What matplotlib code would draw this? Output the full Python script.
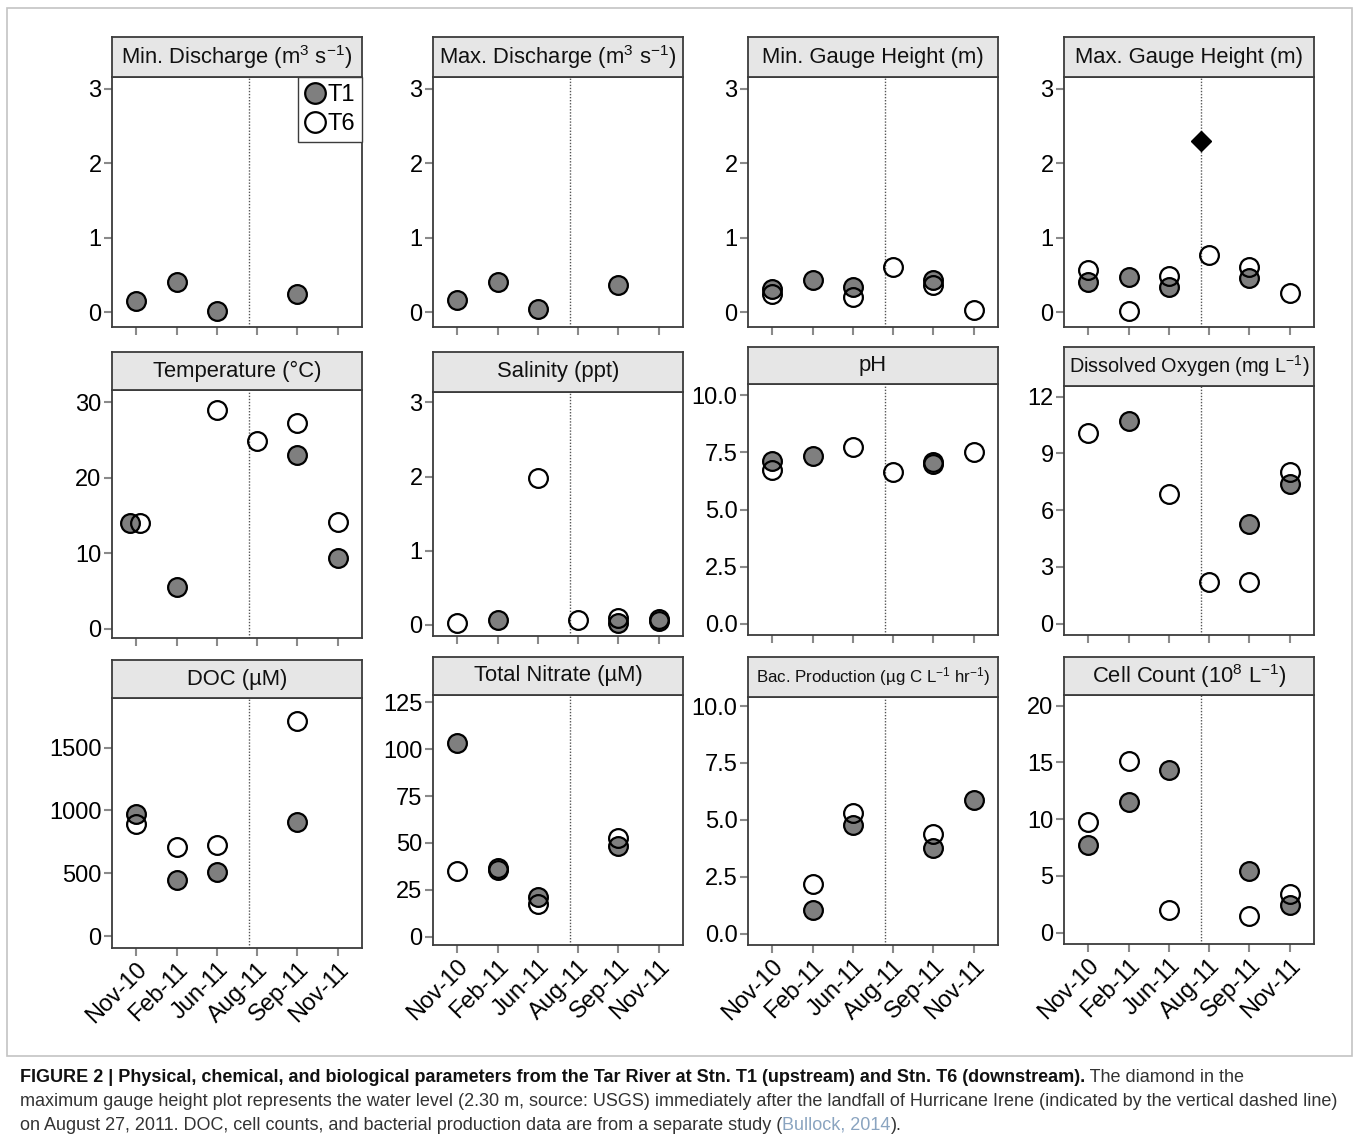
import numpy as np
import matplotlib
matplotlib.use("Agg")
import matplotlib.pyplot as plt
from matplotlib import font_manager
from matplotlib.patches import Rectangle

plt.rcParams['font.family'] = ['Liberation Sans', 'DejaVu Sans']
plt.rcParams['mathtext.fontset'] = 'custom'
plt.rcParams['mathtext.rm'] = 'Liberation Sans'
plt.rcParams['mathtext.it'] = 'Liberation Sans:italic'
plt.rcParams['mathtext.bf'] = 'Liberation Sans:bold'

nan = np.nan

# sampling dates (discrete x axis)
dates = ["Nov-10", "Feb-11", "Jun-11", "Aug-11", "Sep-11", "Nov-11"]
irene_x = 3.8          # landfall of Hurricane Irene, between Jun-11 and Aug-11 samples
irene_gauge = 2.30     # USGS water level after landfall

min_discharge_t1 = [0.15, 0.40, 0.01, nan, 0.24, nan]
min_discharge_t6 = [nan, nan, nan, nan, nan, nan]
max_discharge_t1 = [0.16, 0.40, 0.04, nan, 0.37, nan]
max_discharge_t6 = [nan, nan, nan, nan, nan, nan]
min_gauge_t1 = [0.31, 0.43, 0.34, nan, 0.43, nan]
min_gauge_t6 = [0.24, nan, 0.20, 0.60, 0.37, 0.03]
max_gauge_t1 = [0.40, 0.47, 0.34, nan, 0.46, nan]
max_gauge_t6 = [0.57, 0.02, 0.49, 0.77, 0.61, 0.25]
temperature_t1 = [14.05, 5.6, nan, nan, 23.0, 9.4]
temperature_t6 = [14.05, nan, 28.9, 24.9, 27.2, 14.2]
salinity_t1 = [nan, 0.07, nan, nan, 0.03, 0.05]
salinity_t6 = [0.02, nan, 1.98, 0.06, 0.09, 0.08]
ph_t1 = [7.11, 7.36, nan, nan, 7.10, nan]
ph_t6 = [6.72, nan, 7.74, 6.63, 7.00, 7.52]
do_t1 = [nan, 10.69, nan, nan, 5.28, 7.38]
do_t6 = [10.07, nan, 6.87, 2.18, 2.18, 8.01]
doc_t1 = [970, 450, 511, nan, 909, nan]
doc_t6 = [890, 710, 723, nan, 1712, nan]
nitrate_t1 = [103.5, 35.8, 21.3, nan, 48.2, nan]
nitrate_t6 = [35.3, 36.5, 17.7, nan, 52.9, nan]
bac_t1 = [nan, 1.05, 4.78, nan, 3.77, 5.88]
bac_t6 = [nan, 2.19, 5.30, nan, 4.39, nan]
cell_t1 = [7.68, 11.5, 14.34, nan, 5.4, 2.46]
cell_t6 = [9.74, 15.13, 2.02, nan, 1.5, 3.4]

# (title, T1, T6, ylim, yticks, decimals, title size)
panels = [
    (r"Min. Discharge (m$^{3}$ s$^{-1}$)", min_discharge_t1, min_discharge_t6, (-0.2, 3.155), [0, 1, 2, 3], 0, 15.8),
    (r"Max. Discharge (m$^{3}$ s$^{-1}$)", max_discharge_t1, max_discharge_t6, (-0.2, 3.155), [0, 1, 2, 3], 0, 15.8),
    ("Min. Gauge Height (m)", min_gauge_t1, min_gauge_t6, (-0.2, 3.155), [0, 1, 2, 3], 0, 15.8),
    ("Max. Gauge Height (m)", max_gauge_t1, max_gauge_t6, (-0.2, 3.155), [0, 1, 2, 3], 0, 15.8),
    ("Temperature (°C)", temperature_t1, temperature_t6, (-1.2, 31.6), [0, 10, 20, 30], 0, 15.8),
    ("Salinity (ppt)", salinity_t1, salinity_t6, (-0.15, 3.14), [0, 1, 2, 3], 0, 15.8),
    ("pH", ph_t1, ph_t6, (-0.5, 10.5), [0, 2.5, 5, 7.5, 10], 1, 15.8),
    (r"Dissolved Oxygen (mg L$^{-1}$)", do_t1, do_t6, (-0.6, 12.56), [0, 3, 6, 9, 12], 0, 14.3),
    ("DOC (µM)", doc_t1, doc_t6, (-93, 1894), [0, 500, 1000, 1500], 0, 15.8),
    ("Total Nitrate (µM)", nitrate_t1, nitrate_t6, (-4.4, 128.9), [0, 25, 50, 75, 100, 125], 0, 15.8),
    (r"Bac. Production (µg C L$^{-1}$ hr$^{-1}$)", bac_t1, bac_t6, (-0.5, 10.4), [0, 2.5, 5, 7.5, 10], 1, 12.2),
    (r"Cell Count (10$^{8}$ L$^{-1}$)", cell_t1, cell_t6, (-1.0, 20.94), [0, 5, 10, 15, 20], 0, 15.8),
]

# panel boxes in pixels: left, strip top, panel top, panel bottom
lefts = [112, 433, 748, 1064]
rows = [
    [(37, 77, 327)] * 4,
    [(352, 390, 638), (352, 392, 636), (347, 384, 635), (347, 386, 635)],
    [(660, 698, 948), (657, 695, 945), (657, 697, 945), (657, 695, 944)],
]
PW = 250
W, H = 1358, 1143

fig = plt.figure(figsize=(W / 100, H / 100), dpi=100)


def frac(l, t, r, b):
    return [l / W, 1 - b / H, (r - l) / W, (b - t) / H]


fig.patches.append(Rectangle((7 / W, 1 - 1056 / H), (1352 - 7) / W, (1056 - 8) / H,
                             transform=fig.transFigure, fill=False,
                             edgecolor='#c4c4c4', lw=1.2))

x = np.arange(1, len(dates) + 1)
spine_col = '#3c3c3c'

for i, (title, t1, t6, ylim, yticks, dec, tsize) in enumerate(panels):
    r, c = divmod(i, 4)
    st, pt, pb = rows[r][c]
    l = lefts[c]
    ax = fig.add_axes(frac(l, pt, l + PW, pb))
    sx = fig.add_axes(frac(l, st, l + PW, pt))

    xt1 = x.astype(float).copy()
    xt6 = x.astype(float).copy()
    if title.startswith("Temperature"):
        xt1[0] -= 0.15
        xt6[0] += 0.1

    ax.axvline(irene_x, color='#555555', ls=(0, (1, 1.2)), lw=1.0, zorder=1)
    ax.plot(xt1, t1, 'o', ms=13.5, mfc='#7f7f7f', mec='black', mew=1.6,
            ls='none', label='T1', zorder=3)
    ax.plot(xt6, t6, 'o', ms=13.5, mfc='none', mec='black', mew=1.6,
            ls='none', label='T6', zorder=4)
    if title.startswith("Max. Gauge"):
        ax.plot([irene_x], [irene_gauge], 'D', ms=10.5, color='black', zorder=5)

    ax.set_xlim(0.4, 6.6)
    ax.set_ylim(*ylim)
    ax.set_xticks(x)
    if r == 2:
        ax.set_xticklabels(dates, rotation=45, ha='right', va='top',
                           rotation_mode='anchor', fontsize=17)
    else:
        ax.set_xticklabels([])
    ax.set_yticks(yticks)
    ax.set_yticklabels([f"{v:.{dec}f}" for v in yticks])
    ax.tick_params(axis='both', length=6, width=1.5, color='#8a8a8a',
                   labelcolor='black', pad=1.5)
    ax.tick_params(axis='y', labelsize=17)
    for s in ax.spines.values():
        s.set_color(spine_col)
        s.set_linewidth(1.3)

    sx.set_facecolor('#e6e6e6')
    sx.set_xticks([])
    sx.set_yticks([])
    for s in sx.spines.values():
        s.set_color(spine_col)
        s.set_linewidth(1.3)
    sx.text(0.5, 0.5, title, transform=sx.transAxes, ha='center', va='center',
            fontsize=tsize, color='#111111')

    if i == 0:
        leg = ax.legend(loc='upper right', bbox_to_anchor=(1, 1), borderaxespad=0,
                        fontsize=17, markerscale=1.1, handlelength=0.9,
                        handletextpad=0.05, labelspacing=0.3, borderpad=0.3,
                        fancybox=False, framealpha=1, edgecolor=spine_col)
        leg.get_frame().set_linewidth(1.0)

# caption
names = {f.name for f in font_manager.fontManager.ttflist}
cap_font = 'Liberation Sans Narrow' if 'Liberation Sans Narrow' in names else 'Liberation Sans'
renderer = fig.canvas.get_renderer()

line2 = ("maximum gauge height plot represents the water level (2.30 m, source: USGS) "
         "immediately after the landfall of Hurricane Irene (indicated by the vertical dashed line)")
probe = fig.text(0, 0, line2, fontsize=10, family=cap_font)
wpx = probe.get_window_extent(renderer).width
probe.remove()
cap_size = 10 * 1325 / wpx

caption = [
    (1082, [("FIGURE 2 | Physical, chemical, and biological parameters from the Tar River at "
             "Stn. T1 (upstream) and Stn. T6 (downstream).", 'bold', '#111111'),
            (" The diamond in the", 'normal', '#333333')]),
    (1106, [(line2, 'normal', '#333333')]),
    (1130, [("on August 27, 2011. DOC, cell counts, and bacterial production data are from a "
             "separate study (", 'normal', '#333333'),
            ("Bullock, 2014", 'normal', '#8aa4c0'),
            (").", 'normal', '#333333')]),
]
for yb, runs in caption:
    xp = 20
    for txt, wt, col in runs:
        t = fig.text(xp / W, 1 - yb / H, txt, fontsize=cap_size, family=cap_font,
                     weight=wt, color=col, ha='left', va='baseline')
        xp += t.get_window_extent(renderer).width

fig.savefig("out.png", dpi=100)
